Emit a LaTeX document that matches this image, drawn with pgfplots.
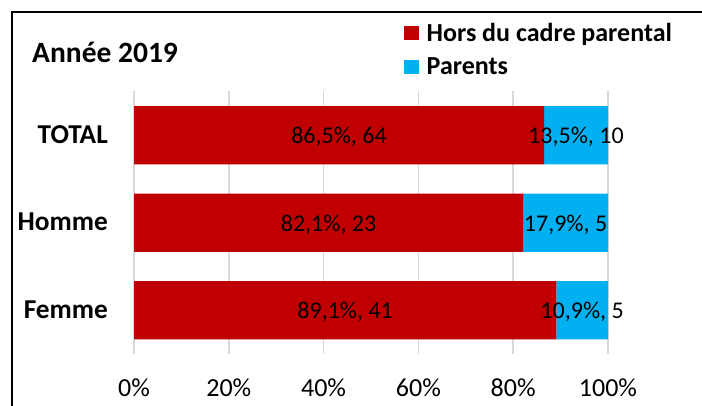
\documentclass[border=0pt]{standalone}
\usepackage{fontspec}
\setmainfont{Carlito}
\usepackage{pgfplots}
\usepackage{pgfplotstable}
\pgfplotsset{compat=1.18}
\definecolor{hors}{HTML}{C00000}
\definecolor{par}{HTML}{00B0F0}
\definecolor{grille}{HTML}{D9D9D9}

% cat: 0 = Femme, 1 = Homme, 2 = TOTAL
\pgfplotstableread{
cat red  blue nred nblue
0   89.1 10.9 41   5
1   82.1 17.9 23   5
2   86.5 13.5 64   10
}\data

\pgfplotsset{cadre/.style={
    scale only axis, width=474pt, height=262.5pt,
    at={(134pt,51pt)}, anchor=south west,
    xmin=0, xmax=100, ymin=-0.5, ymax=2.5,
}}

\begin{document}
\begin{tikzpicture}
\useasboundingbox (0,0) rectangle (702pt,405pt);
\draw[line width=2pt] (12pt,-20pt) -- (12pt,393pt) -- (720pt,393pt);
\node[anchor=base west, inner sep=0pt, font=\fontsize{29.5}{31}\selectfont\bfseries] at (32pt,342pt) {Année 2019};

\begin{axis}[cadre,
    xbar stacked, bar width=58.3pt,
    axis line style={draw=none}, tick style={draw=none},
    xmajorgrids, major grid style={grille, line width=1.5pt},
    xtick={0,20,...,100},
    xticklabel={\pgfmathprintnumber{\tick}\%},
    /pgf/number format/assume math mode=true,
    xticklabel style={anchor=base, inner sep=0pt, yshift=-42.7pt, font=\fontsize{26}{28}\selectfont},
    ytick={0,1,2}, yticklabels={Femme,Homme,TOTAL},
    yticklabel style={anchor=base east, inner sep=0pt, xshift=-26pt, yshift=-8pt, font=\fontsize{27.3}{29}\selectfont\bfseries},
    legend cell align=left,
    legend image code/.code={\fill[#1] (0pt,-7pt) rectangle (14.5pt,7pt);},
    legend style={at={(0.5696,1.268)}, anchor=north west, draw=none, fill=none,
        inner sep=0pt, row sep=10.5pt, font=\fontsize{26}{28}\selectfont\bfseries,
        /tikz/every odd column/.append style={column sep=6pt}},
]
\addplot[fill=hors, draw=none] table[x=red, y=cat] {\data};
\addlegendentry{Hors du cadre parental}
\addplot[fill=par, draw=none] table[x=blue, y=cat] {\data};
\addlegendentry{Parents}
\end{axis}

\begin{axis}[cadre, hide axis,
    /pgf/number format/assume math mode=true,
    nodes near coords={\pgfmathprintnumber[fixed,fixed zerofill,precision=1,use comma]{\valp}\%, \pgfmathprintnumber{\valn}},
    nodes near coords style={anchor=base, inner sep=0pt, yshift=-8.3pt, font=\fontsize{24}{26}\selectfont},
]
\addplot[draw=none,
    visualization depends on={\thisrow{red} \as \valp},
    visualization depends on={\thisrow{nred} \as \valn}]
    table[x expr=\thisrow{red}/2, y=cat] {\data};
\addplot[draw=none,
    visualization depends on={\thisrow{blue} \as \valp},
    visualization depends on={\thisrow{nblue} \as \valn}]
    table[x expr=\thisrow{red}+\thisrow{blue}/2, y=cat] {\data};
\end{axis}
\end{tikzpicture}
\end{document}
